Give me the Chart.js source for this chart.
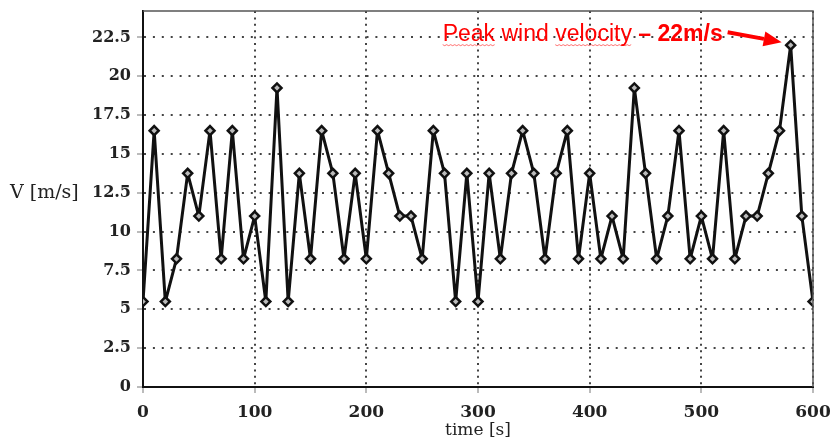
<!DOCTYPE html>
<html>
<head>
<meta charset="utf-8">
<script src="https://cdn.jsdelivr.net/npm/chart.js@4/dist/chart.umd.min.js"></script>
<style>
  html, body { margin: 0; padding: 0; background: #fff; }
  #wrap { width: 830px; height: 441px; }
</style>
</head>
<body>
<div id="wrap"><canvas id="windChart" width="830" height="441"></canvas></div>
<script>
// wind speed sampled every 10 s
const timeSec = [0, 10, 20, 30, 40, 50, 60, 70, 80, 90,
  100, 110, 120, 130, 140, 150, 160, 170, 180, 190,
  200, 210, 220, 230, 240, 250, 260, 270, 280, 290,
  300, 310, 320, 330, 340, 350, 360, 370, 380, 390,
  400, 410, 420, 430, 440, 450, 460, 470, 480, 490,
  500, 510, 520, 530, 540, 550, 560, 570, 580, 590, 600];
const windSpeed = [5.5, 16.5, 5.5, 8.25, 13.75, 11, 16.5, 8.25, 16.5, 8.25,
  11, 5.5, 19.25, 5.5, 13.75, 8.25, 16.5, 13.75, 8.25, 13.75,
  8.25, 16.5, 13.75, 11, 11, 8.25, 16.5, 13.75, 5.5, 13.75,
  5.5, 13.75, 8.25, 13.75, 16.5, 13.75, 8.25, 13.75, 16.5, 8.25,
  13.75, 8.25, 11, 8.25, 19.25, 13.75, 8.25, 11, 16.5, 8.25,
  11, 8.25, 16.5, 8.25, 11, 11, 13.75, 16.5, 22, 11, 5.5];
const xTicks = [0, 100, 200, 300, 400, 500, 600];
const yTicks = [0, 2.5, 5, 7.5, 10, 12.5, 15, 17.5, 20, 22.5];
const xTitle = 'time [s]';
const yTitle = 'V [m/s]';
const peakLabel = 'Peak wind velocity';
const peakValue = '\u2013 22m/s';

const serif = '"DejaVu Serif", "Liberation Serif", serif';
const sans = '"Liberation Sans", Arial, sans-serif';

// frame, axis titles and the peak callout
const extras = {
  id: 'extras',
  afterDraw(chart) {
    const { ctx, chartArea: a, scales: { x, y } } = chart;
    ctx.save();

    // top and right edges of the box
    ctx.strokeStyle = '#555';
    ctx.lineWidth = 1.5;
    ctx.beginPath();
    ctx.moveTo(a.left, a.top);
    ctx.lineTo(a.right, a.top);
    ctx.lineTo(a.right, a.bottom);
    ctx.stroke();

    // axis titles
    ctx.fillStyle = '#222';
    ctx.font = '17px ' + serif;
    ctx.textAlign = 'center';
    ctx.textBaseline = 'middle';
    ctx.fillText(xTitle, (a.left + a.right) / 2, 431);
    ctx.font = '19px ' + serif;
    ctx.textAlign = 'left';
    ctx.fillText(yTitle, 10, y.getPixelForValue(12.5));

    // callout at the highest reading
    const i = windSpeed.indexOf(Math.max(...windSpeed));
    const px = x.getPixelForValue(timeSec[i]);
    const py = y.getPixelForValue(windSpeed[i]);
    const right = px - 68, base = py - 4;

    ctx.fillStyle = '#ff0000';
    ctx.textBaseline = 'alphabetic';
    ctx.font = 'bold 23px ' + sans;
    const wVal = ctx.measureText(peakValue).width;
    ctx.fillText(peakValue, right - wVal, base);
    ctx.font = '23px ' + sans;
    const wLab = ctx.measureText(peakLabel + ' ').width;
    const x0 = right - wVal - wLab;
    ctx.fillText(peakLabel + ' ', x0, base);

    // spell-check style squiggles under "Peak" and "velocity"
    const wPeak = ctx.measureText('Peak').width;
    const vStart = x0 + ctx.measureText('Peak wind ').width;
    const wVel = ctx.measureText('velocity').width;
    ctx.strokeStyle = 'rgba(255,0,0,0.55)';
    ctx.lineWidth = 1;
    [[x0, wPeak], [vStart, wVel]].forEach(([sx, w]) => {
      ctx.beginPath();
      for (let k = 0; k <= w; k += 2) {
        const yy = base + 3.5 + ((k / 2) % 2 ? 1 : 0);
        if (k === 0) ctx.moveTo(sx + k, yy); else ctx.lineTo(sx + k, yy);
      }
      ctx.stroke();
    });

    // arrow towards the point
    const ax0 = px - 63, ay0 = py - 13, ax1 = px - 9, ay1 = py - 3;
    const ang = Math.atan2(ay1 - ay0, ax1 - ax0);
    const headLen = 18, headHalf = 7.5;
    const hx = ax1 - Math.cos(ang) * headLen, hy = ay1 - Math.sin(ang) * headLen;
    ctx.strokeStyle = '#ff0000';
    ctx.lineWidth = 4;
    ctx.beginPath();
    ctx.moveTo(ax0, ay0);
    ctx.lineTo(hx, hy);
    ctx.stroke();
    ctx.fillStyle = '#ff0000';
    ctx.beginPath();
    ctx.moveTo(ax1, ay1);
    ctx.lineTo(hx + Math.sin(ang) * headHalf, hy - Math.cos(ang) * headHalf);
    ctx.lineTo(hx - Math.sin(ang) * headHalf, hy + Math.cos(ang) * headHalf);
    ctx.closePath();
    ctx.fill();

    ctx.restore();
  }
};

new Chart(document.getElementById('windChart'), {
  type: 'line',
  data: {
    datasets: [{
      data: timeSec.map((t, i) => ({ x: t, y: windSpeed[i] })),
      borderColor: '#111',
      borderWidth: 3,
      borderJoinStyle: 'round',
      tension: 0,
      pointStyle: 'rectRot',
      pointRadius: 4.5,
      pointBackgroundColor: '#bbb',
      pointBorderColor: '#111',
      pointBorderWidth: 2.5
    }]
  },
  options: {
    responsive: false,
    animation: false,
    layout: { padding: { top: 11, right: 17, left: 0, bottom: 0 } },
    plugins: { legend: { display: false }, tooltip: { enabled: false } },
    scales: {
      x: {
        type: 'linear',
        min: 0,
        max: 600,
        afterBuildTicks: s => { s.ticks = xTicks.map(v => ({ value: v })); },
        afterFit: s => { s.height = 54; s.paddingLeft = 0; s.paddingRight = 0; },
        ticks: { color: '#222', padding: 9, maxRotation: 0, font: { family: serif, size: 17, weight: 'bold' } },
        grid: { color: '#444', lineWidth: 2, tickColor: '#bbb', tickLength: 6, borderDash: [2, 4.4] },
        border: { color: '#111', width: 2, dash: [2, 4.4] }
      },
      y: {
        min: 0,
        max: 24.2,
        afterBuildTicks: s => { s.ticks = yTicks.map(v => ({ value: v })); },
        afterFit: s => { s.width = 143; s.paddingTop = 0; s.paddingBottom = 0; },
        ticks: { color: '#222', padding: 6, font: { family: serif, size: 16, weight: 'bold' } },
        grid: { color: '#444', lineWidth: 2, tickColor: '#bbb', tickLength: 6, borderDash: [2, 6.9] },
        border: { color: '#111', width: 2, dash: [2, 6.9] }
      }
    }
  },
  plugins: [extras]
});
</script>
</body>
</html>
